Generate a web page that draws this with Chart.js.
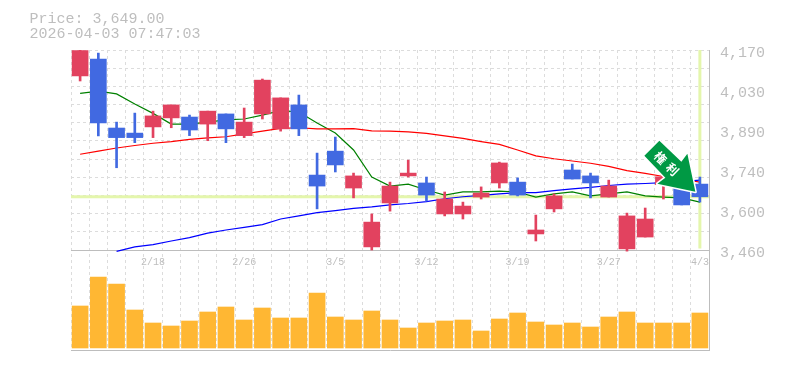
<!DOCTYPE html>
<html>
<head>
<meta charset="utf-8">
<style>
  html, body { margin: 0; padding: 0; background: #fff; }
  #wrap { width: 785px; height: 370px; }
</style>
<script src="https://cdn.jsdelivr.net/npm/chart.js@4/dist/chart.umd.min.js"></script>
</head>
<body>
<div id="wrap"><canvas id="c" width="785" height="370"></canvas></div>
<script>
const dates = ['2/12','2/13','2/16','2/17','2/18','2/19','2/20','2/24','2/25','2/26','2/27','3/2','3/3','3/4','3/5','3/6','3/9','3/10','3/11','3/12','3/13','3/16','3/17','3/18','3/19','3/23','3/24','3/25','3/26','3/27','3/30','3/31','4/1','4/2','4/3'];
const shownDates = ['2/18','2/26','3/5','3/12','3/19','3/27','4/3'];

const opens  = [4078,4138,3893,3875,3897,3929,3932,3907,3943,3866,3943,3890,3975,3726,3811,3680,3471,3627,3723,3698,3588,3588,3648,3698,3701,3517,3606,3744,3723,3648,3464,3506,3692,3687,3694];
const closes = [4168,3911,3859,3859,3936,3975,3886,3953,3890,3914,4063,4000,3890,3687,3762,3723,3559,3687,3733,3655,3641,3616,3662,3769,3655,3531,3652,3712,3698,3687,3581,3570,3720,3620,3649];
const highs  = [4170,4159,3914,3946,3953,3975,3939,3953,3943,3964,4067,4000,4010,3804,3861,3733,3588,3701,3779,3719,3666,3630,3684,3772,3716,3584,3659,3765,3733,3708,3591,3609,3725,3700,3719];
const lows   = [4060,3865,3752,3841,3859,3894,3866,3848,3841,3859,3925,3882,3866,3606,3737,3645,3460,3598,3719,3634,3581,3570,3641,3680,3652,3492,3595,3712,3645,3648,3456,3506,3641,3620,3630];

const ma5  = [4016,4024,4014,3978,3945,3907,3907,3914,3922,3925,3939,3955,3950,3911,3875,3815,3719,3687,3694,3673,3655,3666,3666,3669,3666,3648,3659,3666,3652,3659,3666,3652,3648,3645,3630];
const ma25 = [3800,3811,3822,3831,3839,3845,3853,3858,3862,3872,3882,3892,3894,3890,3890,3891,3883,3882,3879,3874,3865,3856,3845,3835,3815,3794,3784,3776,3768,3757,3742,3732,3721,3712,3701];
const ma75 = [null,null,3455,3471,3479,3492,3504,3520,3531,3540,3550,3570,3581,3593,3600,3608,3613,3620,3625,3632,3642,3649,3654,3659,3664,3664,3671,3677,3682,3689,3694,3696,3699,3703,3708];

const volumes = [42,71,64,38,25,22,27,36,41,28,40,30,30,55,31,28,37,28,20,25,27,28,17,29,35,26,23,25,21,31,36,25,25,25,35];

const priceTicks  = [4170,4028,3886,3744,3602,3460];
const priceLabels = ['4,170','4,030','3,890','3,740','3,600','3,460'];
const gridPrices  = [4170,4105.5,4041,3976.4,3911.8,3847.3,3782.7,3718.2,3653.6,3589.1,3524.5,3460];

const titleLines = ['Price: 3,649.00', '2026-04-03 07:47:03'];
const lastPrice = 3649;
const arrowIndex = 33;
const arrowPrice = 3667;
const arrowText = ['権', '利'];

const RED = '#E2425F';
const BLUE = '#4169E1';
const LIME = '#E4F6AC';
const TEXT = '#BEBEBE';
const MONO = '"Liberation Mono", monospace';

const candleColors = opens.map((o, i) => (closes[i] >= o ? RED : BLUE));

// lime price lines + the solid divider go under the candles
const underlay = {
  id: 'underlay',
  beforeDatasetsDraw(chart) {
    const { ctx, chartArea: a, scales } = chart;
    const py = scales.y.getPixelForValue(lastPrice);
    const lx = scales.x.getPixelForValue(dates.length - 1);
    const divider = Math.round(scales.y.getPixelForValue(3460)) + 0.5;
    ctx.save();
    ctx.fillStyle = LIME;
    ctx.fillRect(a.left, py - 1.5, a.right - a.left, 3);
    ctx.fillRect(lx - 1.5, a.top, 3, divider - a.top - 2);
    ctx.strokeStyle = '#BDBDBD';
    ctx.beginPath();
    ctx.moveTo(a.left, divider);
    ctx.lineTo(a.right, divider);
    ctx.stroke();
    ctx.restore();
  },
};

// green marker arrow and the two header lines
const overlay = {
  id: 'overlay',
  afterDatasetsDraw(chart) {
    const { ctx, scales } = chart;
    const tx = scales.x.getPixelForValue(arrowIndex) + 13.7;
    const ty = scales.y.getPixelForValue(arrowPrice);
    const shape = [[-36,-51],[-14,-30],[-8,-38],[0,0],[-38,-8],[-30,-14],[-51,-36]];

    ctx.save();
    ctx.beginPath();
    shape.forEach(([dx, dy], i) => {
      if (i === 0) ctx.moveTo(tx + dx, ty + dy);
      else ctx.lineTo(tx + dx, ty + dy);
    });
    ctx.closePath();
    ctx.strokeStyle = '#fff';
    ctx.lineWidth = 3;
    ctx.lineJoin = 'round';
    ctx.stroke();
    ctx.fillStyle = '#009944';
    ctx.fill();

    ctx.fillStyle = '#fff';
    ctx.font = 'bold 12px "Noto Sans CJK JP"';
    ctx.textAlign = 'center';
    ctx.textBaseline = 'middle';
    [[-35,-34],[-23,-22.5]].forEach(([dx, dy], i) => {
      ctx.save();
      ctx.translate(tx + dx, ty + dy);
      ctx.rotate(Math.PI / 4);
      ctx.fillText(arrowText[i], 0, 0);
      ctx.restore();
    });

    ctx.fillStyle = TEXT;
    ctx.font = '15px ' + MONO;
    ctx.textAlign = 'left';
    ctx.textBaseline = 'alphabetic';
    ctx.fillText(titleLines[0], 29.5, 23);
    ctx.fillText(titleLines[1], 29.5, 38);
    ctx.restore();
  },
};

const maLine = (data, color) => ({
  type: 'line', data, yAxisID: 'y', borderColor: color, borderWidth: 1.2,
  pointRadius: 0, tension: 0, spanGaps: false, order: 5,
});

new Chart(document.getElementById('c'), {
  type: 'bar',
  plugins: [underlay, overlay],
  data: {
    labels: dates,
    datasets: [
      maLine(ma75, '#0000FF'),
      maLine(ma25, '#FF0000'),
      maLine(ma5, '#008000'),
      {
        data: lows.map((l, i) => [l, highs[i]]), yAxisID: 'y', grouped: false,
        backgroundColor: candleColors, barThickness: 2, order: 2,
      },
      {
        data: opens.map((o, i) => [o, closes[i]]), yAxisID: 'y', grouped: false,
        backgroundColor: candleColors, barThickness: 16, order: 1,
      },
      {
        data: volumes, yAxisID: 'yVol', grouped: false,
        backgroundColor: '#FFB733', barThickness: 16, order: 3,
      },
    ],
  },
  options: {
    responsive: false,
    animation: false,
    layout: { padding: { left: 71, top: 50, right: 0, bottom: 20 } },
    plugins: { legend: { display: false }, tooltip: { enabled: false } },
    scales: {
      x: {
        offset: true,
        grid: { offset: true, color: '#DCDCDC', drawTicks: false },
        border: { color: '#BDBDBD', dash: [3, 3] },
        ticks: {
          // mirror flips the padding and skips the axis clip box, so labels sit inside the plot
          mirror: true,
          autoSkip: false, maxRotation: 0, minRotation: 0, padding: 82,
          color: TEXT, font: { family: MONO, size: 10 },
          callback(v, i) { return shownDates.includes(dates[i]) ? dates[i] : ''; },
        },
        afterFit(scale) {
          scale.height = 0;
          scale.paddingLeft = 0;
          scale.paddingRight = 0;
        },
      },
      y: {
        position: 'right', min: 3105, max: 4170,
        grid: { display: false },
        border: { color: '#BDBDBD' },
        afterBuildTicks(scale) { scale.ticks = priceTicks.map((value) => ({ value })); },
        ticks: {
          autoSkip: false, padding: 3, labelOffset: 3, align: 'center',
          color: TEXT, font: { family: MONO, size: 15 },
          callback(v, i) { return priceLabels[i]; },
        },
        afterFit(scale) { scale.width = 76; },
      },
      yGrid: {
        position: 'right', min: 3105, max: 4170,
        grid: { color: '#DCDCDC', drawTicks: false },
        border: { display: false, dash: [3, 3] },
        afterBuildTicks(scale) { scale.ticks = gridPrices.map((value) => ({ value })); },
        ticks: { display: false, autoSkip: false },
        afterFit(scale) { scale.width = 0; },
      },
      yVol: { display: false, min: -2, max: 298 },
    },
  },
});
</script>
</body>
</html>
